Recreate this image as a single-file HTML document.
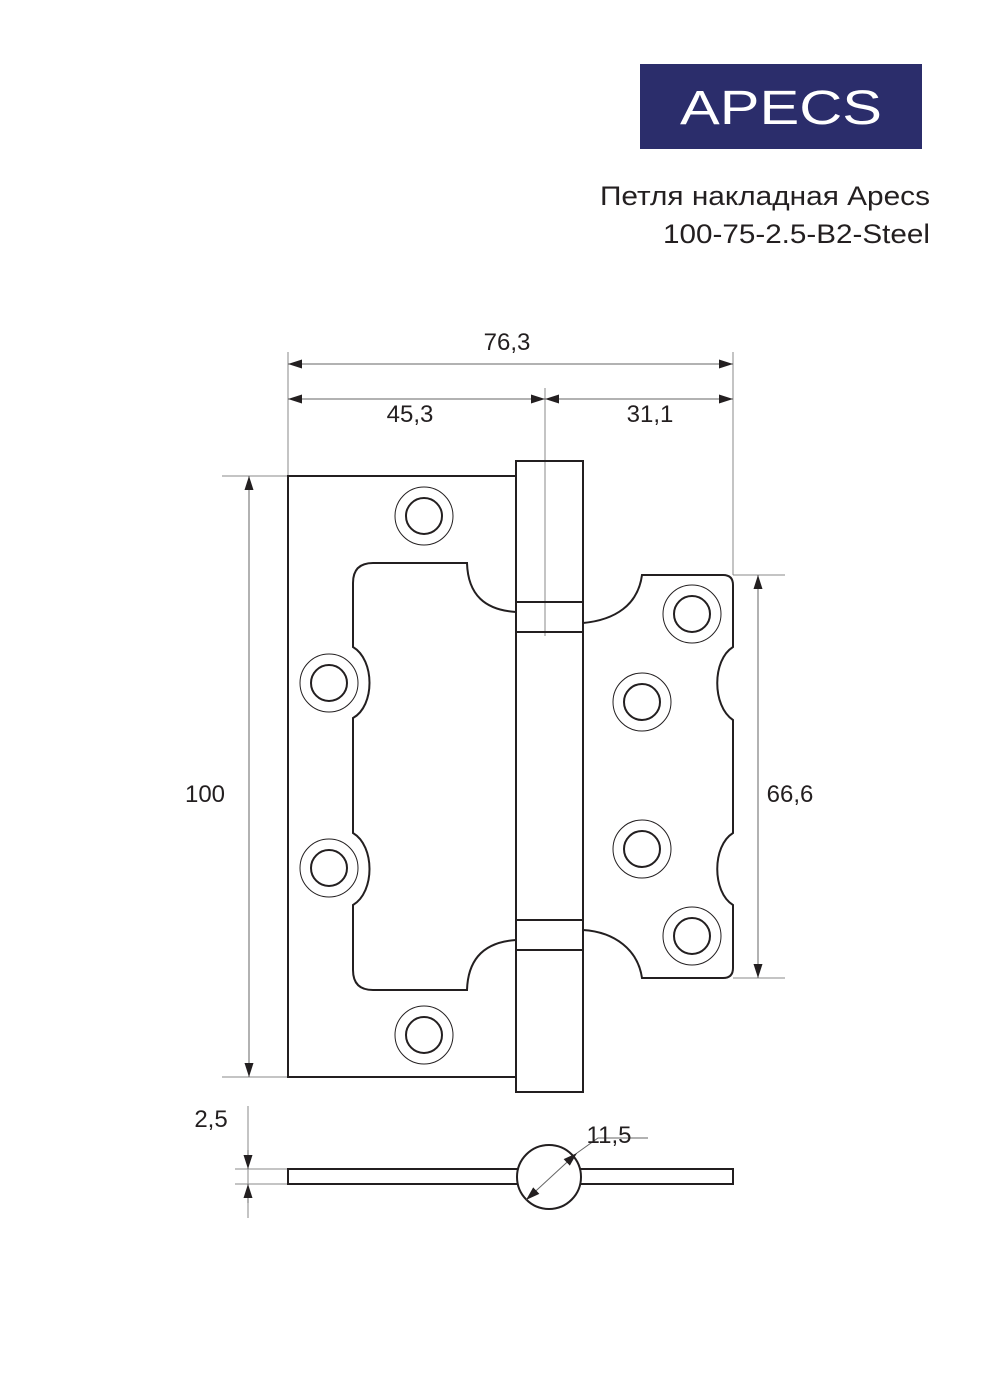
<!DOCTYPE html>
<html><head><meta charset="utf-8"><style>
html,body{margin:0;padding:0;background:#fff;}
svg{display:block;}
text{font-family:"Liberation Sans",sans-serif;fill:#231f20;}
</style></head><body>
<svg width="991" height="1400" viewBox="0 0 991 1400" xmlns="http://www.w3.org/2000/svg">
<defs>
<marker id="a" viewBox="0 0 14 9" refX="14" refY="4.5" markerWidth="14" markerHeight="9" markerUnits="userSpaceOnUse" orient="auto-start-reverse"><path d="M0,0 L14,4.5 L0,9 Z" fill="#231f20"/></marker>
</defs>
<rect x="640" y="64" width="282" height="85" fill="#2b2d6b"/>
<text x="781" y="124" font-size="48" text-anchor="middle" textLength="202" lengthAdjust="spacingAndGlyphs" style="fill:#fff">APECS</text>
<text x="930" y="205" font-size="27" text-anchor="end" textLength="330" lengthAdjust="spacingAndGlyphs">Петля накладная Apecs</text>
<text x="930" y="243" font-size="27" text-anchor="end" textLength="267" lengthAdjust="spacingAndGlyphs">100-75-2.5-B2-Steel</text>

<g stroke="#888" stroke-width="1" fill="none">
<line x1="288" y1="352" x2="288" y2="476"/>
<line x1="733" y1="352" x2="733" y2="575"/>
<line x1="545" y1="388" x2="545" y2="636"/>
<line x1="222" y1="476" x2="288" y2="476"/>
<line x1="222" y1="1077" x2="288" y2="1077"/>
<line x1="733" y1="575" x2="785" y2="575"/>
<line x1="733" y1="978" x2="785" y2="978"/>
<line x1="248" y1="1106" x2="248" y2="1218"/>
<line x1="235" y1="1169" x2="288" y2="1169"/>
<line x1="235" y1="1184" x2="288" y2="1184"/>
</g>
<g stroke="#666" stroke-width="1" fill="none">
<line x1="288" y1="364" x2="733" y2="364" marker-start="url(#a)" marker-end="url(#a)"/>
<line x1="288" y1="399" x2="545" y2="399" marker-start="url(#a)" marker-end="url(#a)"/>
<line x1="545" y1="399" x2="733" y2="399" marker-start="url(#a)" marker-end="url(#a)"/>
<line x1="249" y1="476" x2="249" y2="1077" marker-start="url(#a)" marker-end="url(#a)"/>
<line x1="758" y1="575" x2="758" y2="978" marker-start="url(#a)" marker-end="url(#a)"/>
<line x1="248" y1="1150" x2="248" y2="1169" marker-end="url(#a)"/>
<line x1="248" y1="1203" x2="248" y2="1184" marker-end="url(#a)"/>
<polyline points="577,1153 598,1138 648,1138"/>
</g>
<text x="507" y="350" font-size="24" text-anchor="middle">76,3</text>
<text x="410" y="422" font-size="24" text-anchor="middle">45,3</text>
<text x="650" y="422" font-size="24" text-anchor="middle">31,1</text>
<text x="205" y="802" font-size="24" text-anchor="middle">100</text>
<text x="790" y="802" font-size="24" text-anchor="middle">66,6</text>
<text x="211" y="1127" font-size="24" text-anchor="middle">2,5</text>
<text x="609" y="1143" font-size="24" text-anchor="middle">11,5</text>

<g stroke="#231f20" stroke-width="2" fill="none">
<path d="M516,476 L288,476 L288,1077 L516,1077"/>
<path d="M516,612 C485,610 468,595 467,563 L373,563 Q353,563 353,583 L353,647 C375,660 375,706 353,718 L353,833 C375,846 375,892 353,905 L353,970 Q353,990 373,990 L467,990 C468,958 485,942 516,940"/>
<rect x="516" y="461" width="67" height="631"/>
<line x1="516" y1="602" x2="583" y2="602"/>
<line x1="516" y1="632" x2="583" y2="632"/>
<line x1="516" y1="920" x2="583" y2="920"/>
<line x1="516" y1="950" x2="583" y2="950"/>
<path d="M583,623 C615,620 638,605 642,575 L723,575 Q733,575 733,585 L733,647 C712,660 712,706 733,720 L733,833 C712,846 712,892 733,905 L733,968 Q733,978 723,978 L642,978 C638,950 615,932 583,930"/>
<rect x="288" y="1169" width="445" height="15" fill="#fff"/>
<circle cx="549" cy="1177" r="32" fill="#fff"/>
</g>
<line x1="526" y1="1200" x2="577" y2="1153" stroke="#666" stroke-width="1" marker-start="url(#a)" marker-end="url(#a)"/>
<g fill="none" stroke="#231f20">
<g stroke-width="2">
<circle cx="424" cy="516" r="18"/><circle cx="329" cy="683" r="18"/><circle cx="329" cy="868" r="18"/><circle cx="424" cy="1035" r="18"/>
<circle cx="692" cy="614" r="18"/><circle cx="642" cy="702" r="18"/><circle cx="642" cy="849" r="18"/><circle cx="692" cy="936" r="18"/>
</g>
<g stroke-width="1">
<circle cx="424" cy="516" r="29"/><circle cx="329" cy="683" r="29"/><circle cx="329" cy="868" r="29"/><circle cx="424" cy="1035" r="29"/>
<circle cx="692" cy="614" r="29"/><circle cx="642" cy="702" r="29"/><circle cx="642" cy="849" r="29"/><circle cx="692" cy="936" r="29"/>
</g>
</g>
</svg>
</body></html>
